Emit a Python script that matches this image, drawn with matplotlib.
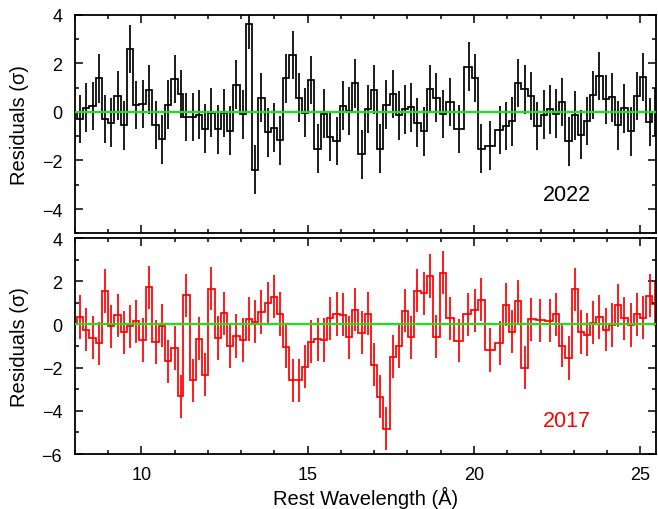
import numpy as np
import matplotlib
matplotlib.use("Agg")
import matplotlib.pyplot as plt
from matplotlib.ticker import MultipleLocator

plt.rcParams['font.family'] = ['Liberation Sans', 'DejaVu Sans']

# 2022 residuals: bin centres (Angstrom) and residuals (sigma)
wave_2022 = [8.17, 8.35, 8.54, 8.73, 8.92, 9.10, 9.29, 9.48, 9.67, 9.85,
             10.04, 10.23, 10.43, 10.61, 10.80, 11.00, 11.18, 11.36, 11.55, 11.74,
             11.92, 12.11, 12.30, 12.49, 12.67, 12.86, 13.05, 13.24, 13.43, 13.61,
             13.80, 13.99, 14.18, 14.36, 14.55, 14.74, 14.93, 15.11, 15.30, 15.49,
             15.68, 15.87, 16.06, 16.24, 16.43, 16.62, 16.81, 17.00, 17.18, 17.37,
             17.56, 17.74, 17.93, 18.12, 18.30, 18.49, 18.68, 18.87, 19.06, 19.27,
             19.54, 19.84, 20.02, 20.20, 20.49, 20.77, 20.95, 21.13, 21.33, 21.52,
             21.71, 21.90, 22.10, 22.28, 22.47, 22.65, 22.84, 23.03, 23.21, 23.40,
             23.59, 23.77, 23.96, 24.14, 24.33, 24.52, 24.71, 24.90, 25.08, 25.28,
             25.44]
res_2022 = [-0.30, 0.17, 0.24, 1.38, -0.30, -0.44, 0.67, -0.55, 2.59, 0.28,
            0.33, 0.91, -0.54, -1.13, 0.30, 1.35, 0.74, -0.22, -0.22, -0.11,
            -0.69, -0.03, -0.72, -0.05, -0.77, 1.12, -0.10, 3.60, -2.38, 0.58,
            -0.84, -0.65, -1.17, 1.38, 2.34, 0.58, -0.03, 1.31, -1.52, -0.07,
            -1.03, -1.20, 0.25, 0.04, 1.17, -1.75, 0.12, 0.92, -1.52, 0.30,
            0.73, -0.14, 0.10, 0.19, -0.44, -0.80, 0.94, 0.58, -0.08, 0.40,
            -0.70, 1.86, 1.39, -1.51, -1.39, -0.75, -0.59, -0.39, 1.18, 0.93,
            0.66, -0.58, -0.11, 0.10, -0.07, 0.41, -1.21, -0.14, -0.94, -0.37,
            0.70, 1.47, 0.52, 0.60, -0.55, 0.15, -0.80, 0.65, 1.44, -0.41,
            0.0]

# 2017 residuals
wave_2017 = [8.17, 8.35, 8.54, 8.73, 8.92, 9.10, 9.29, 9.48, 9.67, 9.85,
             10.04, 10.23, 10.43, 10.61, 10.80, 11.00, 11.18, 11.36, 11.55, 11.74,
             11.92, 12.11, 12.30, 12.49, 12.67, 12.86, 13.05, 13.24, 13.43, 13.61,
             13.80, 13.99, 14.18, 14.36, 14.55, 14.74, 14.93, 15.11, 15.30, 15.49,
             15.68, 15.87, 16.06, 16.24, 16.43, 16.62, 16.81, 17.00, 17.18, 17.37,
             17.56, 17.74, 17.93, 18.12, 18.30, 18.49, 18.68, 18.87, 19.06, 19.27,
             19.54, 19.82, 20.02, 20.20, 20.49, 20.77, 20.95, 21.13, 21.33, 21.52,
             21.71, 21.99, 22.27, 22.45, 22.65, 22.84, 23.03, 23.21, 23.40, 23.59,
             23.77, 23.96, 24.14, 24.33, 24.52, 24.71, 24.90, 25.08, 25.28, 25.44]
res_2017 = [0.34, -0.25, -0.61, -0.88, 1.55, -0.08, 0.43, -0.37, -0.08, 0.14,
            -0.72, 1.72, -0.81, -0.06, -1.71, -1.09, -3.32, 1.34, -2.58, -0.66,
            -2.32, 1.66, -0.63, 0.51, -1.00, -0.54, -0.72, 0.25, 0.12, 0.58,
            0.97, 1.29, 0.48, -1.03, -2.58, -2.58, -1.95, -0.80, -0.68, -0.72,
            0.29, 0.48, 0.45, -0.60, 0.69, -0.38, 0.49, -1.86, -3.35, -4.82,
            -1.49, -1.00, 0.63, -0.60, 1.57, 1.44, 2.24, -0.57, 2.40, 0.29,
            -0.75, 0.46, 0.66, 1.14, -1.18, -0.86, 0.91, -0.34, 1.08, -2.00,
            0.23, 0.20, 0.18, 0.47, -0.99, -1.55, 1.63, -0.35, -0.48, 0.08,
            0.34, -0.25, -0.03, 0.89, 0.28, -0.03, 0.46, 0.32, 1.33, 0.95]

panels = [("2022", wave_2022, res_2022, "black", (-5, 4)),
          ("2017", wave_2017, res_2017, "red", (-6, 4))]


def bin_edges(c):
    c = np.asarray(c)
    mid = (c[1:] + c[:-1]) / 2
    return np.concatenate([[c[0] - (c[1] - c[0]) / 2], mid, [c[-1] + (c[-1] - c[-2]) / 2]])


fig = plt.figure(figsize=(6.58, 5.10), dpi=100)
boxes = [[0.1135, 0.5406, 0.8835, 0.4286], [0.1135, 0.1078, 0.8835, 0.4235]]

for (label, w, r, col, ylim), box in zip(panels, boxes):
    ax = fig.add_axes(box)
    ax.stairs(r, bin_edges(w), color=col, lw=1.25)
    ax.errorbar(w, r, yerr=1.0, fmt='none', ecolor=col, elinewidth=1.25, capsize=0)
    ax.axhline(0, color='#1ee01e', lw=1.6, zorder=5)
    ax.set_xlim(8.0, 25.47)
    ax.set_ylim(*ylim)
    ax.xaxis.set_major_locator(MultipleLocator(5))
    ax.xaxis.set_minor_locator(MultipleLocator(1))
    ax.yaxis.set_major_locator(MultipleLocator(2))
    ax.yaxis.set_minor_locator(MultipleLocator(1))
    ax.tick_params(which='both', direction='in', top=True, right=True, width=1.1,
                   labelsize=13)
    ax.tick_params(which='major', length=5.5)
    ax.tick_params(which='minor', length=3)
    ax.tick_params(axis='y', pad=9)
    ax.tick_params(axis='x', pad=8.5)
    for s in ax.spines.values():
        s.set_linewidth(1.3)
    ax.set_ylabel("Residuals (σ)", fontsize=14.5)
    ax.yaxis.set_label_coords(-0.078, 0.5)
    ax.text(22.78, ylim[0] + (1.58 if label == "2022" else 1.55), label,
            color=col, fontsize=15.5, ha='center', va='center')
    if label == "2022":
        ax.tick_params(labelbottom=False)
    else:
        ax.set_xlabel("Rest Wavelength (Å)", fontsize=14.5, labelpad=2)

fig.savefig("out.png", dpi=100)
